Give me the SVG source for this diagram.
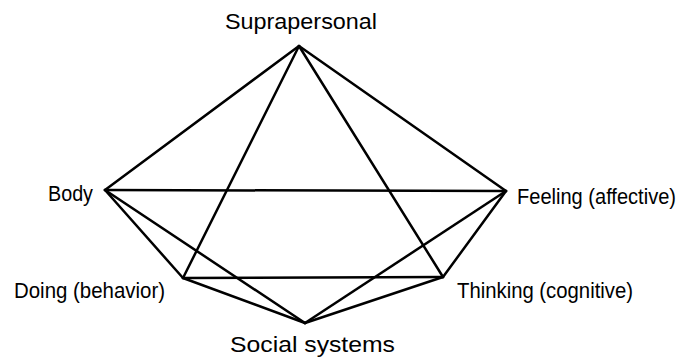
<svg xmlns="http://www.w3.org/2000/svg" width="683" height="358" viewBox="0 0 683 358">
<style>
.e{stroke:#000;stroke-width:2.5;fill:none;stroke-linecap:round}
text{font-family:"Liberation Sans",Arial,sans-serif;font-size:22px;fill:#000}
</style>
<rect width="683" height="358" fill="#fff"/>
<g id="connectors">
<line class="e" x1="299" y1="46" x2="105" y2="190"/>
<line class="e" x1="299" y1="46" x2="506" y2="191"/>
<line class="e" x1="299" y1="46" x2="183" y2="278"/>
<line class="e" x1="299" y1="46" x2="443" y2="277"/>
<line class="e" x1="105" y1="190" x2="506" y2="191"/>
<line class="e" x1="183" y1="278" x2="443" y2="277"/>
<line class="e" x1="105" y1="190" x2="183" y2="278"/>
<line class="e" x1="105" y1="190" x2="305" y2="323"/>
<line class="e" x1="183" y1="278" x2="305" y2="323"/>
<line class="e" x1="506" y1="191" x2="305" y2="323"/>
<line class="e" x1="506" y1="191" x2="443" y2="277"/>
<line class="e" x1="443" y1="277" x2="305" y2="323"/>
</g>
<g id="suprapersonal"><text x="225" y="29" textLength="152" lengthAdjust="spacingAndGlyphs">Suprapersonal</text></g>
<g id="body"><text x="48" y="201" textLength="45" lengthAdjust="spacingAndGlyphs">Body</text></g>
<g id="feeling"><text x="517" y="204" font-size="18.5" textLength="159" lengthAdjust="spacingAndGlyphs">Feeling (affective)</text></g>
<g id="doing"><text x="14" y="298" textLength="151" lengthAdjust="spacingAndGlyphs">Doing (behavior)</text></g>
<g id="thinking"><text x="457" y="298" textLength="176" lengthAdjust="spacingAndGlyphs">Thinking (cognitive)</text></g>
<g id="social"><text x="230" y="352" textLength="165" lengthAdjust="spacingAndGlyphs">Social systems</text></g>
</svg>
